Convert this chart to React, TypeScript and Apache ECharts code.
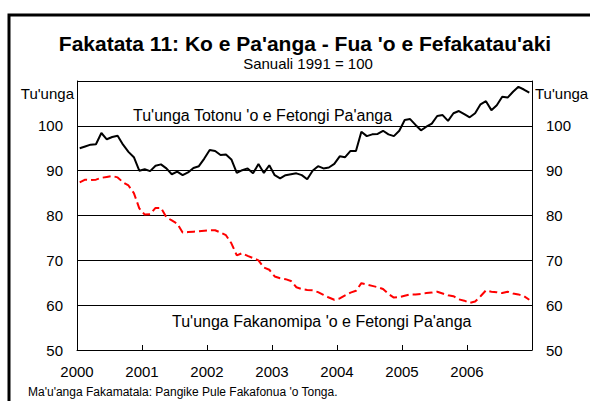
import React, { useEffect, useRef } from "react";
import * as echarts from "echarts";

const startYear = 2000;
const yearTicks = [2000, 2001, 2002, 2003, 2004, 2005, 2006];

const realIndex = [
  95.0, 95.4, 95.8, 95.9, 98.4, 97.0, 97.5, 97.8, 95.8, 94.2, 93.0, 90.0,
  90.3, 89.9, 91.1, 91.4, 90.5, 89.2, 89.8, 89.0, 89.6, 90.6, 91.0, 92.7,
  94.6, 94.4, 93.5, 93.6, 92.5, 89.5, 90.1, 90.5, 89.4, 91.5, 89.5, 91.2,
  89.0, 88.3, 89.0, 89.2, 89.4, 89.0, 88.1, 90.0, 91.0, 90.5, 90.7, 91.5,
  93.2, 93.0, 94.4, 94.4, 98.7, 97.7, 98.1, 98.2, 98.9, 98.1, 97.7, 98.9,
  101.3, 101.5, 100.2, 99.0, 99.8, 100.5, 102.2, 102.4, 101.1, 102.8, 103.3, 102.6,
  101.9, 102.8, 104.8, 105.5, 103.5, 104.6, 106.5, 106.3, 107.6, 108.7, 108.1, 107.4,
];

const nominalIndex = [
  87.4, 88.0, 87.9, 88.0, 88.4, 88.6, 88.8, 88.5, 87.4, 86.7, 85.0, 81.6,
  80.2, 80.3, 81.7, 81.7, 79.6, 78.9, 78.2, 76.2, 76.3, 76.4, 76.5, 76.6,
  76.7, 76.7, 76.2, 75.6, 73.8, 71.1, 71.6, 71.0, 70.5, 70.0, 68.4, 67.9,
  66.4, 66.0, 65.8, 65.4, 64.0, 63.6, 63.4, 63.3, 62.9, 62.3, 61.7, 61.2,
  61.5, 62.2, 62.8, 63.2, 64.9, 64.6, 64.3, 64.0, 63.6, 62.5, 61.7, 61.8,
  62.1, 62.4, 62.4, 62.5, 62.7, 62.8, 63.0, 62.6, 62.2, 62.0, 61.3, 61.0,
  60.5, 60.8, 62.0, 63.3, 63.0, 62.9, 62.7, 63.0, 62.6, 62.4, 62.0, 61.2,
];

const yTickMin = 50;
const yTickMax = 110;

const FONT = "'Liberation Sans', Arial, Helvetica, sans-serif";

const toPoints = (vals: number[]) =>
  vals.map((v, k) => [startYear + (k + 0.5) / 12, v]);

export default function App() {
  const ref = useRef<HTMLDivElement>(null);
  useEffect(() => {
    if (!ref.current) return;
    const chart = echarts.init(ref.current, null, { renderer: "svg" });
    const yAxisBase = {
      type: "value" as const,
      min: yTickMin,
      max: yTickMax,
      interval: 10,
      axisLine: { show: true, lineStyle: { color: "#000", width: 1 } },
      axisTick: { show: false },
      axisLabel: {
        color: "#000",
        fontSize: 15,
        fontFamily: FONT,
        margin: 14,
        formatter: (v: number) => (v === yTickMax ? "" : String(v)),
      },
    };
    chart.setOption({
      animation: false,
      backgroundColor: "#fff",
      grid: { left: 77, right: 58, top: 81, bottom: 51 },
      xAxis: {
        type: "value",
        min: 2000,
        max: 2007,
        interval: 1,
        axisLine: { show: true, onZero: false, lineStyle: { color: "#000", width: 1 } },
        axisTick: { show: true, inside: true, length: 5, lineStyle: { color: "#000" } },
        splitLine: { show: false },
        axisLabel: {
          color: "#000",
          fontSize: 15,
          fontFamily: FONT,
          margin: 14,
          formatter: (v: number) => (yearTicks.includes(v) ? String(v) : ""),
        },
      },
      yAxis: [
        {
          ...yAxisBase,
          position: "left",
          splitLine: { show: true, lineStyle: { color: "#000", width: 1 } },
        },
        {
          ...yAxisBase,
          position: "right",
          splitLine: { show: false },
        },
      ],
      series: [
        {
          type: "line",
          data: toPoints(realIndex),
          showSymbol: false,
          lineStyle: { color: "#000", width: 2 },
          z: 3,
        },
        {
          type: "line",
          data: toPoints(nominalIndex),
          showSymbol: false,
          lineStyle: { color: "#ff0000", width: 2, type: [8, 4] },
          z: 3,
        },
      ],
      graphic: [
        {
          type: "rect",
          shape: { x: 9, y: 15, width: 700, height: 500 },
          style: { fill: "none", stroke: "#000", lineWidth: 3 },
          silent: true,
        },
        {
          type: "text",
          x: 305,
          y: 43,
          style: {
            text: "Fakatata 11: Ko e Pa'anga - Fua 'o e Fefakatau'aki",
            font: `bold 21px ${FONT}`,
            fill: "#000",
            align: "center",
            verticalAlign: "middle",
          },
        },
        {
          type: "text",
          x: 308,
          y: 63,
          style: {
            text: "Sanuali 1991 = 100",
            font: `15px ${FONT}`,
            fill: "#000",
            align: "center",
            verticalAlign: "middle",
          },
        },
        {
          type: "text",
          x: 74,
          y: 93,
          style: {
            text: "Tu'unga",
            font: `15px ${FONT}`,
            fill: "#000",
            align: "right",
            verticalAlign: "middle",
          },
        },
        {
          type: "text",
          x: 535,
          y: 93,
          style: {
            text: "Tu'unga",
            font: `15px ${FONT}`,
            fill: "#000",
            align: "left",
            verticalAlign: "middle",
          },
        },
        {
          type: "text",
          x: 133,
          y: 115,
          style: {
            text: "Tu'unga Totonu 'o e Fetongi Pa'anga",
            font: `16px ${FONT}`,
            fill: "#000",
            align: "left",
            verticalAlign: "middle",
          },
        },
        {
          type: "text",
          x: 172,
          y: 321,
          style: {
            text: "Tu'unga Fakanomipa 'o e Fetongi Pa'anga",
            font: `16px ${FONT}`,
            fill: "#000",
            align: "left",
            verticalAlign: "middle",
          },
        },
        {
          type: "text",
          x: 28,
          y: 392,
          style: {
            text: "Ma'u'anga Fakamatala: Pangike Pule Fakafonua 'o Tonga.",
            font: `12px ${FONT}`,
            fill: "#000",
            align: "left",
            verticalAlign: "middle",
          },
        },
      ],
    });
    return () => chart.dispose();
  }, []);
  return (
    <div
      ref={ref}
      style={{ position: "fixed", left: 0, top: 0, width: 590, height: 401 }}
    />
  );
}
